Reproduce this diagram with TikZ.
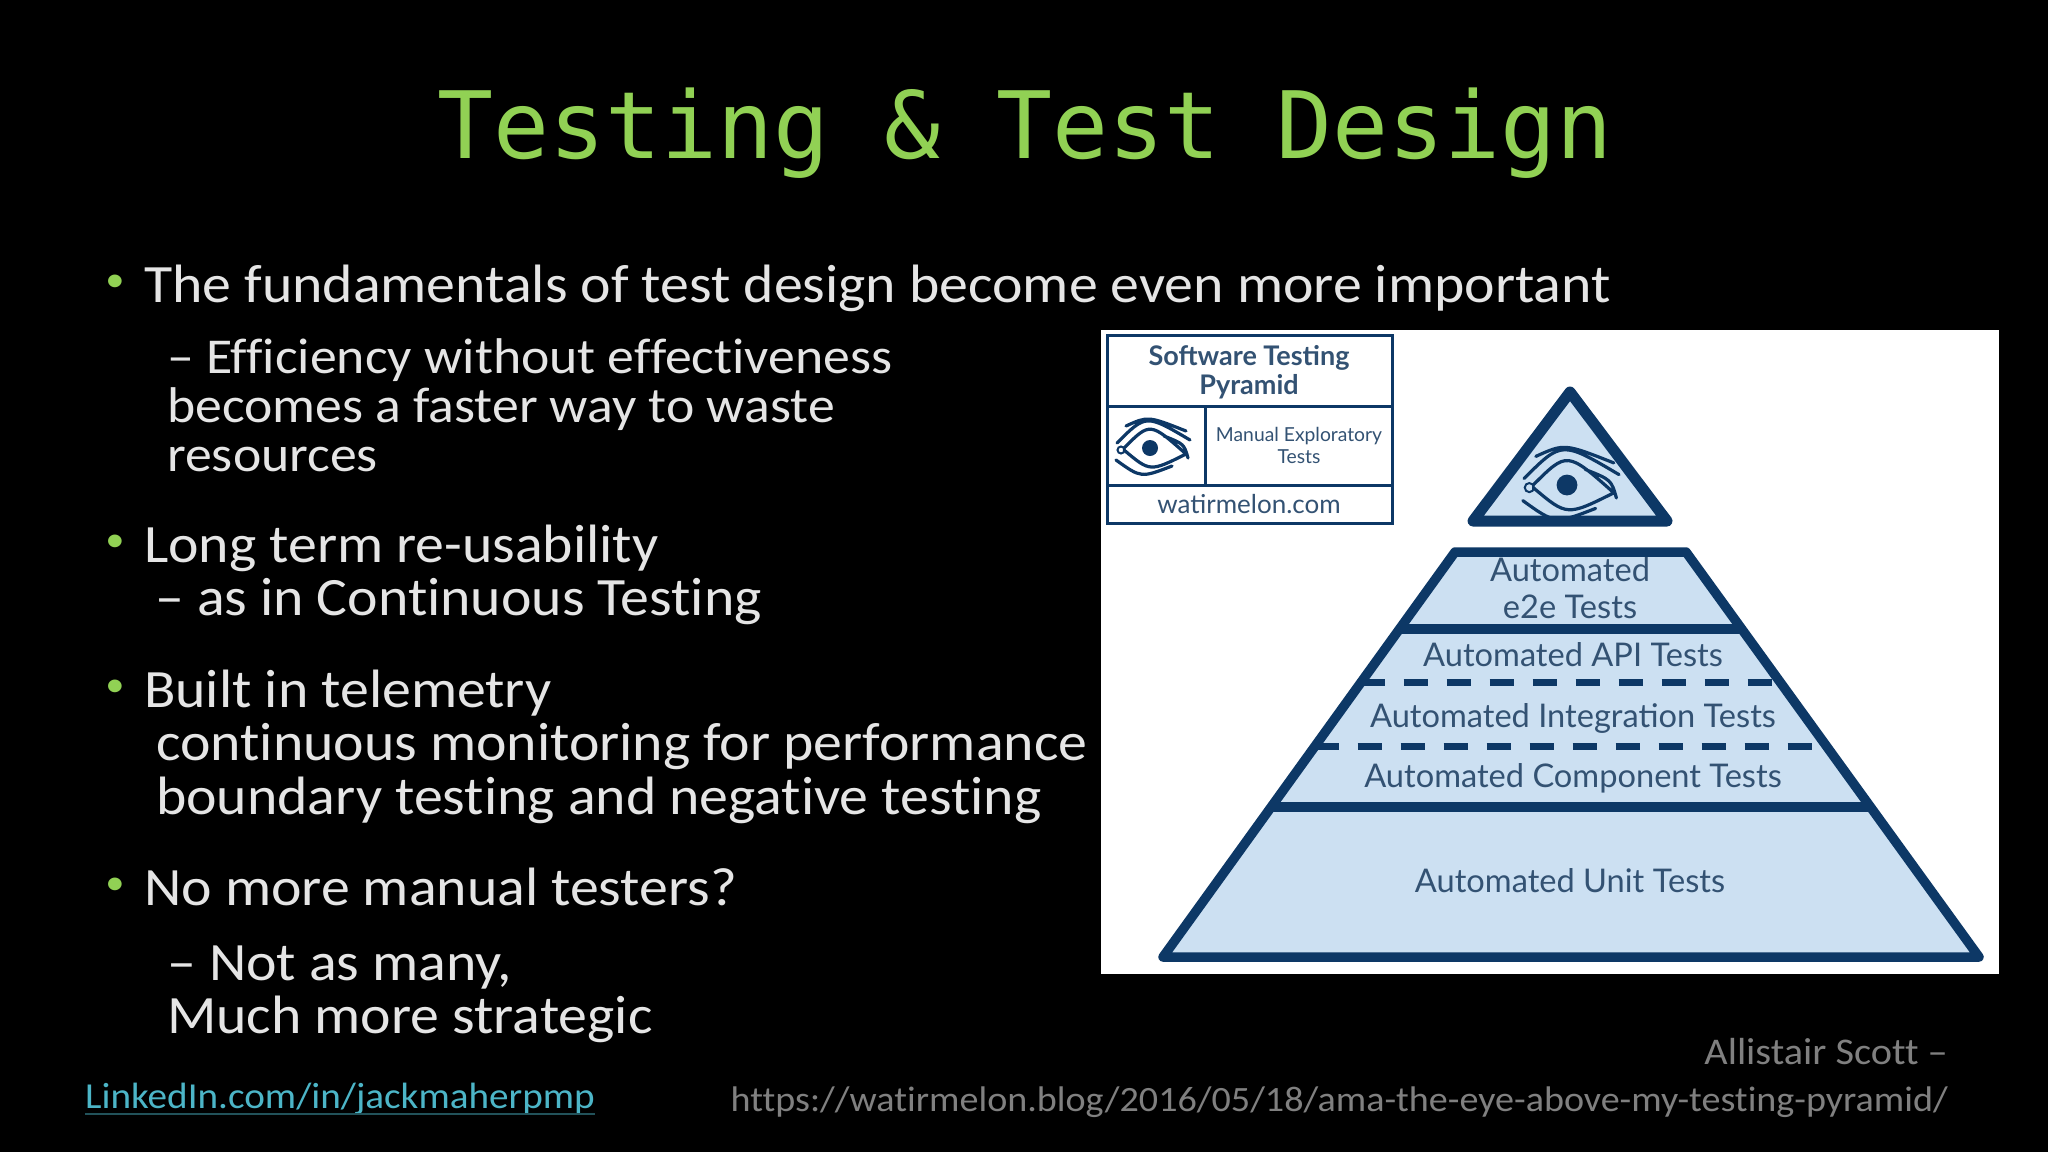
\documentclass[tikz,border=0pt]{standalone}
\usepackage{fontspec}
\setmainfont[FakeStretch=1.07,Ligatures=CommonOff]{Carlito}
\newfontfamily\titlefont{DejaVu Sans Mono}
\newfontfamily\panelfont{Lato}
\usetikzlibrary{calc, positioning}
\definecolor{TitleGreen}{rgb}{0.57,0.82,0.33}
\definecolor{BodyWhite}{rgb}{0.90,0.90,0.90}
\definecolor{LinkTeal}{rgb}{0.30,0.71,0.78}
\definecolor{NoteGrey}{rgb}{0.50,0.50,0.50}
\definecolor{Navy}{rgb}{0.05,0.22,0.40}
\definecolor{PanelText}{rgb}{0.20,0.32,0.45}
\definecolor{PaleBlue}{rgb}{0.80,0.88,0.95}
\tikzset{
    bodyline/.style={anchor=base west,inner sep=0pt,text=BodyWhite,font=\fontsize{54}{54}\selectfont},
    subline/.style={bodyline,font=\fontsize{50.2}{50.2}\selectfont},
    dotline/.style={anchor=center,inner sep=0pt,text=TitleGreen,font=\fontsize{36}{36}\selectfont},
    noteline/.style={anchor=base east,inner sep=0pt,text=NoteGrey,font=\fontsize{37.7}{37.7}\selectfont},
    paneltext/.style={anchor=center,inner sep=0pt,text=PanelText,font=\panelfont\fontsize{23}{23}\selectfont},
    pyrtext/.style={paneltext,font=\panelfont\fontsize{32.6}{32.6}\selectfont},
    keyline/.style={draw=Navy,line width=3pt},
    pyrline/.style={draw=Navy,line width=9.5pt,line join=round},
    dashline/.style={draw=Navy,line width=7pt,dash pattern=on 24pt off 19pt},
    eyeicon/.pic={
        \fill[Navy] (0,0) circle (8);
        \draw[Navy,line width=3.2pt,line cap=round]
            (-24,-22) .. controls (-2,-32) .. (36,-17)
            (-33,-5) .. controls (-4,-34) .. (40,-8)
            (-26,0) .. controls (0,-26) .. (36,6)
            (-26,2) .. controls (0,24) .. (36,6)
            (-34,12) .. controls (-9,30) .. (22,18)
            (14,-12) .. controls (34,-4) .. (38,10);
        \draw[Navy,line width=2pt] (-29,2) circle (3.5);
    }
}
\begin{document}
\begin{tikzpicture}[x=1pt,y=-1pt]

    % black slide
    \fill[black] (0,0) rectangle (2048,1152);

    % title
    \node[anchor=base,inner sep=0pt,text=TitleGreen,font=\titlefont\fontsize{93}{93}\selectfont] (title) at (1025,158) {Testing \& Test Design};

    % bullets
    \node[dotline] (dotA) at (115,283) {•};
    \node[dotline] (dotB) at (115,543) {•};
    \node[dotline] (dotC) at (115,688) {•};
    \node[dotline] (dotD) at (115,886) {•};

    % body text
    \node[bodyline] (lineA) at (144,302) {The fundamentals of test design become even more important};
    \node[subline] (lineB) at (167,373) {– Efficiency without effectiveness};
    \node[subline] (lineC) at (167,422) {becomes a faster way to waste};
    \node[subline] (lineD) at (167,471) {resources};
    \node[bodyline] (lineE) at (144,562) {Long term re-usability};
    \node[bodyline] (lineF) at (155,615) {– as in Continuous Testing};
    \node[bodyline] (lineG) at (144,707) {Built in telemetry};
    \node[bodyline] (lineH) at (156,760) {continuous monitoring for performance};
    \node[bodyline] (lineI) at (156,814) {boundary testing and negative testing};
    \node[bodyline] (lineJ) at (144,905) {No more manual testers?};
    \node[bodyline] (lineK) at (167,980) {– Not as many,};
    \node[bodyline] (lineL) at (167,1033) {Much more strategic};

    % footer
    \node[anchor=base west,inner sep=0pt,text=LinkTeal,font=\fontsize{36.6}{36.6}\selectfont] (link) at (85,1108) {LinkedIn.com/in/jackmaherpmp};
    \draw[LinkTeal!45!black,line width=1.5pt] ([yshift=-6pt]link.base west) -- ([yshift=-6pt]link.base east);
    \node[noteline] (noteA) at (1948,1064) {Allistair Scott –};
    \node[noteline,font=\fontsize{35.6}{35.6}\selectfont] (noteB) at (1948,1111) {https://watirmelon.blog/2016/05/18/ama-the-eye-above-my-testing-pyramid/};

    % white panel
    \fill[white] (1101,330) rectangle (1999,974);

    % key box
    \draw[keyline] (1107,335) rectangle (1392,523);
    \draw[keyline] (1107,406) -- (1392,406);
    \draw[keyline] (1107,485) -- (1392,485);
    \draw[keyline] (1205,406) -- (1205,485);
    \node[paneltext,font=\panelfont\bfseries\fontsize{27}{27}\selectfont] (keyA) at (1249,358) {Software Testing};
    \node[paneltext,font=\panelfont\bfseries\fontsize{27}{27}\selectfont] (keyB) at (1249,387) {Pyramid};
    \node[paneltext,font=\panelfont\fontsize{19.3}{19.3}\selectfont] (keyC) at (1299,436) {Manual Exploratory};
    \node[paneltext,font=\panelfont\fontsize{19.3}{19.3}\selectfont] (keyD) at (1299,457) {Tests};
    \node[paneltext,font=\panelfont\fontsize{26}{26}\selectfont] (keyE) at (1249,504) {watirmelon.com};
    \pic at (1150,448) {eyeicon};

    % eye triangle
    \filldraw[draw=Navy,fill=PaleBlue,line width=11pt,line join=round]
        (1570,392)
        -- (1667,521)
        -- (1473,521)
        -- cycle;
    \pic[scale=1.3] at (1567,485) {eyeicon};

    % pyramid
    \coordinate (TL) at (1455,552);
    \coordinate (TR) at (1686,552);
    \coordinate (BL) at (1163,957);
    \coordinate (BR) at (1979,957);
    \fill[PaleBlue] (TL) -- (TR) -- (BR) -- (BL) -- cycle;
    \draw[dashline] ($(TL)!0.323!(BL)$) -- ($(TR)!0.323!(BR)$);
    \draw[dashline] ($(TL)!0.481!(BL)$) -- ($(TR)!0.481!(BR)$);
    \draw[pyrline] ($(TL)!0.19!(BL)$) -- ($(TR)!0.19!(BR)$);
    \draw[pyrline] ($(TL)!0.63!(BL)$) -- ($(TR)!0.63!(BR)$);
    \draw[pyrline] (TL) -- (TR) -- (BR) -- (BL) -- cycle;

    % pyramid labels
    \node[pyrtext] (pyrA) at (1570,570) {Automated};
    \node[pyrtext] (pyrB) at (1570,607) {e2e Tests};
    \node[pyrtext] (pyrC) at (1573,655) {Automated API Tests};
    \node[pyrtext] (pyrD) at (1573,718) {Automated Integration Tests};
    \node[pyrtext] (pyrE) at (1573,778) {Automated Component Tests};
    \node[pyrtext] (pyrF) at (1570,881) {Automated Unit Tests};

\end{tikzpicture}
\end{document}
